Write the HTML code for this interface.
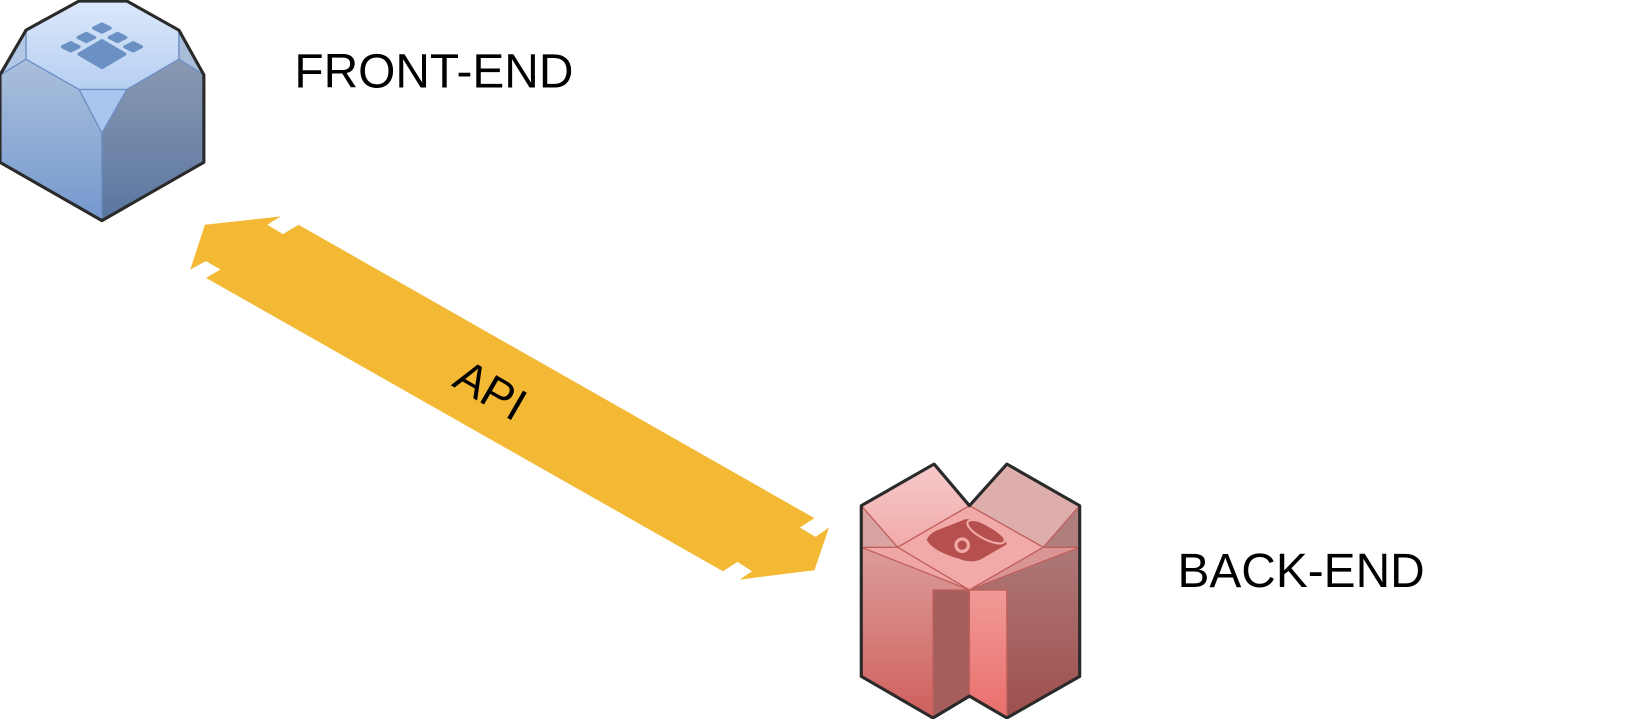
<!DOCTYPE html>
<html><head><meta charset="utf-8"><style>
html,body{margin:0;padding:0;background:#fff;width:1631px;height:719px;overflow:hidden}
svg{display:block}
text{font-family:"Liberation Sans",sans-serif}
</style></head><body>
<svg width="1631" height="719" viewBox="0 0 1568 691" preserveAspectRatio="none">
<defs>
<linearGradient id="ft" x1="0" y1="0" x2="0" y2="1"><stop offset="0" stop-color="#dbe8fa"/><stop offset="1" stop-color="#b6cff2"/></linearGradient>
<linearGradient id="fl" x1="0" y1="0" x2="0" y2="1"><stop offset="0" stop-color="#aabfdb"/><stop offset="1" stop-color="#7599cf"/></linearGradient>
<linearGradient id="fr" x1="0" y1="0" x2="0" y2="1"><stop offset="0" stop-color="#8a99b3"/><stop offset="1" stop-color="#5a76a0"/></linearGradient>
<linearGradient id="bl" x1="0" y1="0" x2="0" y2="1"><stop offset="0" stop-color="#dc9d9a"/><stop offset="1" stop-color="#cf605d"/></linearGradient>
<linearGradient id="bs" x1="0" y1="0" x2="0" y2="1"><stop offset="0" stop-color="#f09a97"/><stop offset="1" stop-color="#ea6f6c"/></linearGradient>
<linearGradient id="br" x1="0" y1="0" x2="0" y2="1"><stop offset="0" stop-color="#ad7877"/><stop offset="1" stop-color="#9f4f4d"/></linearGradient>
<linearGradient id="bf" x1="0" y1="0" x2="0" y2="1"><stop offset="0" stop-color="#f7caca"/><stop offset="1" stop-color="#f0aaa9"/></linearGradient>
</defs>

<g stroke="#6b8fc4" stroke-width="1.2" stroke-linejoin="round">
 <polygon points="25,29 76,1 122,1 172,29 172,57 122,86 76,86 25,57" fill="url(#ft)"/>
 <polygon points="0,72 25,29 25,57" fill="#b3c8e6"/>
 <polygon points="196,72 172,29 172,57" fill="#a9bcd9"/>
 <polygon points="76,86 122,86 98,128" fill="#a9c5ee"/>
 <polygon points="0,72 25,57 76,86 98,128 98,212 0,156" fill="url(#fl)"/>
 <polygon points="196,72 172,57 122,86 98,128 98,212 196,156" fill="url(#fr)"/>
 <g fill="#6a90c4" stroke="#6a90c4" stroke-width="3" stroke-linejoin="round">
  <polygon points="98,39 120,52 98,65 76,52"/>
  <polygon points="68,41 76,45 68,49 60,45"/>
  <polygon points="83,32 91,36 83,40 75,36"/>
  <polygon points="98,23 106,27 98,31 90,27"/>
  <polygon points="113,32 121,36 113,40 105,36"/>
  <polygon points="128,41 136,45 128,49 120,45"/>
 </g>
 <polygon points="76,1 122,1 172,29 196,72 196,156 98,212 0,156 0,72 25,29" fill="none" stroke="#2a2a2a" stroke-width="3"/>
</g>
<text x="283" y="84" font-size="46" fill="#000">FRONT-END</text>

<polygon fill="#f3b934" points="197,216 270,208 257,216 272,225 287,216 783,498 769,507 784,516 797,507 783,548 711,557 723,549 709,540 695,549 198,267 212,259 198,251 183,259"/>
<text x="0" y="0" font-size="44" fill="#000" text-anchor="middle" transform="translate(464,388) rotate(30)">API</text>

<g stroke="#c0605d" stroke-width="1.2" stroke-linejoin="round">
 <polygon points="828,486 898,446 932,486 863,526" fill="url(#bf)"/>
 <polygon points="932,486 968,446 1038,486 1003,526" fill="#ddaeac"/>
 <polygon points="828,486 863,526 828,526" fill="#d9a3a1"/>
 <polygon points="1038,486 1003,526 1038,526" fill="#b07e7d"/>
 <polygon points="932,486 1003,526 932,567 863,526" fill="#f2aaa9"/>
 <polygon points="828,526 863,526 932,567" fill="#f0a6a4"/>
 <polygon points="1038,526 1003,526 932,567" fill="#d89593"/>
 <polygon points="828,526 932,567 897,567 897,689 828,650" fill="url(#bl)"/>
 <polygon points="897,567 932,567 932,669 897,689" fill="#a55e5c"/>
 <polygon points="932,567 968,567 968,689 932,669" fill="url(#bs)"/>
 <polygon points="1038,526 932,567 968,567 968,689 1038,650" fill="url(#br)"/>
 <path d="M891,519 Q893,512 905,508 L928,499 Q935,498 948,505 Q965,514 968,523 L944,537 Q935,542 922,537 Q897,530 891,519 Z" fill="#b5504e" stroke="none"/>
 <ellipse cx="948" cy="511" rx="20" ry="7" transform="rotate(28 948 511)" fill="none" stroke="#f2aaa9" stroke-width="2"/>
 <circle cx="925" cy="524" r="6" fill="none" stroke="#f2aaa9" stroke-width="3"/>
 <polygon points="828,486 898,446 932,486 968,446 1038,486 1038,650 968,690 932,669 897,690 828,650" fill="none" stroke="#2a2a2a" stroke-width="3"/>
</g>
<text x="1132" y="564" font-size="46" fill="#000">BACK-END</text>
</svg>
</body></html>
